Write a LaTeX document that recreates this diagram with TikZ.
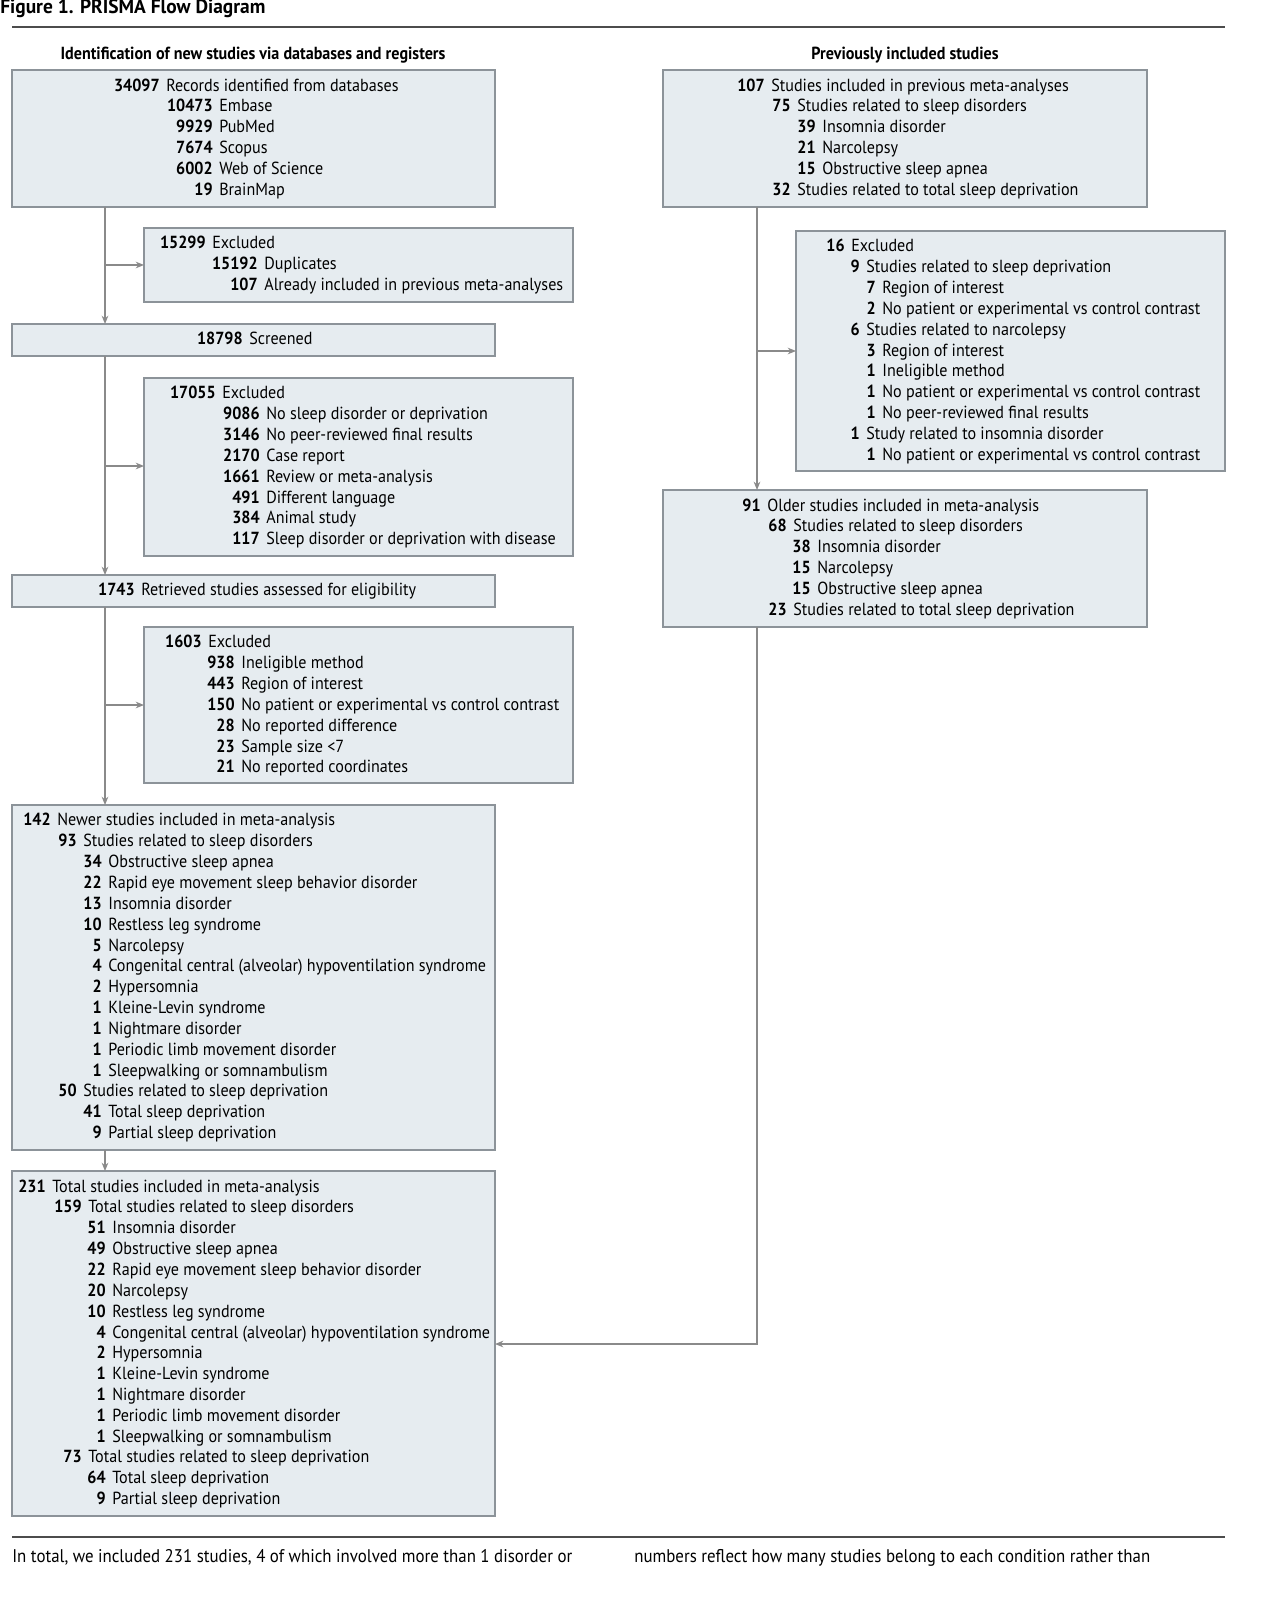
\documentclass[tikz,border=0pt]{standalone}
\usepackage{fontspec}
\setmainfont{PT Sans}[FakeStretch=0.92]
\newfontfamily\ttlfont{PT Sans}[FakeStretch=0.97]
\usetikzlibrary{arrows.meta}
\definecolor{boxfill}{HTML}{E6ECF0}
\definecolor{boxline}{HTML}{8C9399}
\definecolor{arr}{HTML}{8A8A8A}
\tikzset{
  bx/.style={draw=boxline,fill=boxfill,line width=0.7pt},
  conn/.style={draw=arr,line width=0.8pt},
  arrw/.style={conn,-{Stealth[length=5pt,width=4pt]}},
  txt/.style={inner sep=0pt,font=\fontsize{10.5}{12}\selectfont}
}
\newcommand\rw[4]{%
  \node[txt,anchor=mid east] at (#1,#2) {\bfseries #3};
  \node[txt,anchor=mid west,xshift=3.6pt] at (#1,#2) {#4};}
\begin{document}
\begin{tikzpicture}[x=0.6pt,y=-0.6pt]
\useasboundingbox (0,0) rectangle (1266,1609);
% title
\node[inner sep=0,anchor=mid west,font=\ttlfont\fontsize{12}{14}\selectfont\bfseries] (title) at (0,9) {Figure 1. PRISMA Flow Diagram};
\draw[line width=0.9pt,black!70] (12,27) -- (1225,27);
\draw[line width=0.9pt,black!70] (12,1537) -- (1225,1537);
\node[txt,font=\fontsize{10.5}{12}\selectfont\bfseries] (hl) at (253,55) {Identification of new studies via databases and registers};
\node[txt,font=\fontsize{10.5}{12}\selectfont\bfseries] (hr) at (905,55) {Previously included studies};
% boxes
\draw[bx] (12,70) rectangle (495,207) node[pos=0.5] (b1) {};
\draw[bx] (144,228) rectangle (573,302) node[pos=0.5] (b2) {};
\draw[bx] (12,324) rectangle (495,356) node[pos=0.5] (b3) {};
\draw[bx] (144,378) rectangle (573,556) node[pos=0.5] (b4) {};
\draw[bx] (12,575) rectangle (495,607) node[pos=0.5] (b5) {};
\draw[bx] (144,627) rectangle (573,783) node[pos=0.5] (b6) {};
\draw[bx] (12,805) rectangle (495,1150) node[pos=0.5] (b7) {};
\draw[bx] (12,1171) rectangle (495,1516) node[pos=0.5] (b8) {};
\draw[bx] (663,70) rectangle (1147,207) node[pos=0.5] (r1) {};
\draw[bx] (796,231) rectangle (1225,471) node[pos=0.5] (r2) {};
\draw[bx] (663,490) rectangle (1147,627) node[pos=0.5] (r3) {};
% connectors
\coordinate (c1) at (105,207); \coordinate (c1e) at (105,324);
\draw[arrw] (c1) -- (c1e);
\draw[arrw] (105,265) -- (144,265);
\draw[arrw] (105,356) -- (105,575);
\draw[arrw] (105,466) -- (144,466);
\draw[arrw] (105,607) -- (105,805);
\draw[arrw] (105,705) -- (144,705);
\draw[arrw] (105,1150) -- (105,1171);
\draw[arrw] (757,207) -- (757,490);
\draw[arrw] (757,351) -- (796,351);
\draw[arrw] (757,627) -- (757,1344) -- (495,1344);
% B1
\rw{160}{87}{34097}{Records identified from databases}
\rw{213}{107}{10473}{Embase}
\rw{213}{128}{9929}{PubMed}
\rw{213}{149}{7674}{Scopus}
\rw{213}{170}{6002}{Web of Science}
\rw{213}{191}{19}{BrainMap}
% B2
\rw{206}{244}{15299}{Excluded}
\rw{258}{265}{15192}{Duplicates}
\rw{258}{286}{107}{Already included in previous meta-analyses}
% B3
\rw{243}{340}{18798}{Screened}
% B4
\rw{216}{394}{17055}{Excluded}
\rw{260}{415}{9086}{No sleep disorder or deprivation}
\rw{260}{436}{3146}{No peer-reviewed final results}
\rw{260}{457}{2170}{Case report}
\rw{260}{478}{1661}{Review or meta-analysis}
\rw{260}{499}{491}{Different language}
\rw{260}{519}{384}{Animal study}
\rw{260}{540}{117}{Sleep disorder or deprivation with disease}
% B5
\rw{135}{591}{1743}{Retrieved studies assessed for eligibility}
% B6
\rw{202}{643}{1603}{Excluded}
\rw{235}{664}{938}{Ineligible method}
\rw{235}{685}{443}{Region of interest}
\rw{235}{706}{150}{No patient or experimental vs control contrast}
\rw{235}{727}{28}{No reported difference}
\rw{235}{748}{23}{Sample size <7}
\rw{235}{768}{21}{No reported coordinates}
% B7
\rw{51}{821}{142}{Newer studies included in meta-analysis}
\rw{77}{842}{93}{Studies related to sleep disorders}
\rw{102}{863}{34}{Obstructive sleep apnea}
\rw{102}{884}{22}{Rapid eye movement sleep behavior disorder}
\rw{102}{905}{13}{Insomnia disorder}
\rw{102}{926}{10}{Restless leg syndrome}
\rw{102}{947}{5}{Narcolepsy}
\rw{102}{967}{4}{Congenital central (alveolar) hypoventilation syndrome}
\rw{102}{988}{2}{Hypersomnia}
\rw{102}{1009}{1}{Kleine-Levin syndrome}
\rw{102}{1030}{1}{Nightmare disorder}
\rw{102}{1051}{1}{Periodic limb movement disorder}
\rw{102}{1072}{1}{Sleepwalking or somnambulism}
\rw{77}{1092}{50}{Studies related to sleep deprivation}
\rw{102}{1113}{41}{Total sleep deprivation}
\rw{102}{1134}{9}{Partial sleep deprivation}
% B8
\rw{46}{1188}{231}{Total studies included in meta-analysis}
\rw{82}{1208}{159}{Total studies related to sleep disorders}
\rw{106}{1229}{51}{Insomnia disorder}
\rw{106}{1250}{49}{Obstructive sleep apnea}
\rw{106}{1271}{22}{Rapid eye movement sleep behavior disorder}
\rw{106}{1292}{20}{Narcolepsy}
\rw{106}{1313}{10}{Restless leg syndrome}
\rw{106}{1334}{4}{Congenital central (alveolar) hypoventilation syndrome}
\rw{106}{1354}{2}{Hypersomnia}
\rw{106}{1375}{1}{Kleine-Levin syndrome}
\rw{106}{1396}{1}{Nightmare disorder}
\rw{106}{1417}{1}{Periodic limb movement disorder}
\rw{106}{1438}{1}{Sleepwalking or somnambulism}
\rw{82}{1458}{73}{Total studies related to sleep deprivation}
\rw{106}{1479}{64}{Total sleep deprivation}
\rw{106}{1500}{9}{Partial sleep deprivation}
% R1
\rw{765}{87}{107}{Studies included in previous meta-analyses}
\rw{791}{107}{75}{Studies related to sleep disorders}
\rw{816}{128}{39}{Insomnia disorder}
\rw{816}{149}{21}{Narcolepsy}
\rw{816}{170}{15}{Obstructive sleep apnea}
\rw{791}{191}{32}{Studies related to total sleep deprivation}
% R2
\rw{845}{247}{16}{Excluded}
\rw{860}{268}{9}{Studies related to sleep deprivation}
\rw{876}{289}{7}{Region of interest}
\rw{876}{310}{2}{No patient or experimental vs control contrast}
\rw{860}{331}{6}{Studies related to narcolepsy}
\rw{876}{352}{3}{Region of interest}
\rw{876}{372}{1}{Ineligible method}
\rw{876}{393}{1}{No patient or experimental vs control contrast}
\rw{876}{414}{1}{No peer-reviewed final results}
\rw{860}{435}{1}{Study related to insomnia disorder}
\rw{876}{456}{1}{No patient or experimental vs control contrast}
% R3
\rw{761}{507}{91}{Older studies included in meta-analysis}
\rw{787}{527}{68}{Studies related to sleep disorders}
\rw{811}{548}{38}{Insomnia disorder}
\rw{811}{569}{15}{Narcolepsy}
\rw{811}{590}{15}{Obstructive sleep apnea}
\rw{787}{611}{23}{Studies related to total sleep deprivation}
% bottom text
\node[txt,anchor=mid west,font=\fontsize{11}{13}\selectfont] (ft1) at (12,1558) {In total, we included 231 studies, 4 of which involved more than 1 disorder or};
\node[txt,anchor=mid west,font=\fontsize{11}{13}\selectfont] (ft2) at (634,1558) {numbers reflect how many studies belong to each condition rather than};
\end{tikzpicture}
\end{document}
